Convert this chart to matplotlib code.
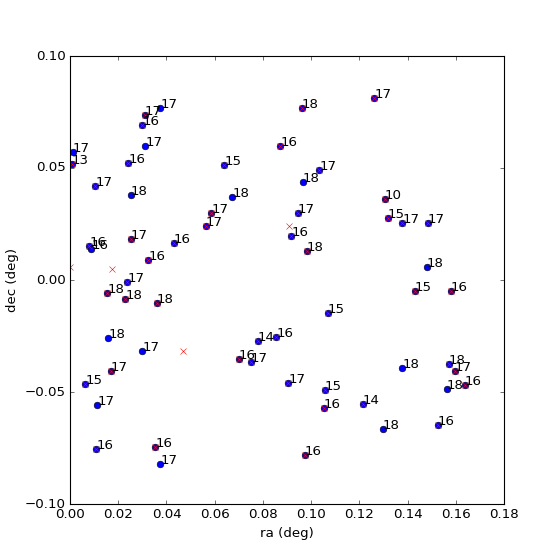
import numpy as np
import matplotlib
matplotlib.use("Agg")
from matplotlib import pyplot as plt

plt.style.use("classic")

ra = [0.0374, 0.0309, 0.0300, 0.0313, 0.0011, 0.0008, 0.0242, 0.0105, 0.0253,
      0.0961, 0.0872, 0.0640, 0.1034, 0.0965, 0.0673, 0.1262, 0.1305,
      0.0586, 0.0564, 0.0080, 0.0089, 0.0251, 0.0431, 0.0325, 0.0238,
      0.0155, 0.0230, 0.0361, 0.0159, 0.0300, 0.0944, 0.0918, 0.0982,
      0.1068, 0.0778, 0.0856, 0.1318, 0.1379, 0.1484, 0.1480, 0.1430,
      0.1579, 0.0170, 0.0064, 0.0113, 0.0109, 0.0353, 0.0374, 0.0699,
      0.0749, 0.0906, 0.1057, 0.1052, 0.0973, 0.1379, 0.1570, 0.1597,
      0.1563, 0.1638, 0.1214, 0.1297, 0.1526]
dec = [0.0769, 0.0735, 0.0690, 0.0596, 0.0572, 0.0520, 0.0523, 0.0418, 0.0378,
       0.0770, 0.0600, 0.0515, 0.0490, 0.0439, 0.0369, 0.0811, 0.0363,
       0.0301, 0.0243, 0.0153, 0.0140, 0.0184, 0.0166, 0.0090, -0.0010,
       -0.0057, -0.0083, -0.0102, -0.0257, -0.0317, 0.0301, 0.0195, 0.0131,
       -0.0147, -0.0272, -0.0253, 0.0275, 0.0256, 0.0256, 0.0059, -0.0051,
       -0.0051, -0.0406, -0.0464, -0.0558, -0.0755, -0.0746, -0.0822, -0.0353,
       -0.0366, -0.0460, -0.0491, -0.0570, -0.0782, -0.0393, -0.0375, -0.0406,
       -0.0487, -0.0469, -0.0554, -0.0664, -0.0648]
mag = [17, 17, 16, 17, 17, 13, 16, 17, 18,
       18, 16, 15, 17, 18, 18, 17, 10,
       17, 17, 16, 16, 17, 16, 16, 17,
       18, 18, 18, 18, 17, 17, 16, 18,
       15, 14, 16, 15, 17, 17, 18, 15,
       16, 17, 15, 17, 16, 16, 17, 16,
       17, 17, 15, 16, 16, 18, 18, 17,
       18, 16, 14, 18, 16]
# 1 = also matched in the second catalogue (red x)
matched = [0, 1, 1, 0, 0, 1, 1, 1, 0,
           1, 1, 1, 1, 0, 0, 1, 1,
           1, 1, 1, 0, 1, 1, 1, 1,
           1, 1, 1, 0, 0, 1, 1, 1,
           1, 1, 1, 1, 1, 1, 0, 1,
           1, 1, 1, 0, 1, 1, 0, 1,
           1, 1, 1, 1, 1, 0, 1, 1,
           0, 1, 1, 0, 1]
# red x with no blue source
extra_ra = [0.0, 0.0176, 0.0467, 0.0910]
extra_dec = [0.0057, 0.0050, -0.0319, 0.0243]

ra = np.array(ra)
dec = np.array(dec)
m = np.array(matched) == 1
red_ra = np.concatenate([ra[m], extra_ra])
red_dec = np.concatenate([dec[m], extra_dec])

fig = plt.figure(figsize=(7, 7), dpi=80)
ax = fig.add_subplot(111)
ax.plot(ra, dec, "bo")
ax.plot(red_ra, red_dec, "rx")
for x, y, s in zip(ra, dec, mag):
    ax.text(x, y, str(s))

ax.set_xlim(0.0, 0.18)
ax.set_ylim(-0.10, 0.10)
ax.set_xlabel("ra (deg)")
ax.set_ylabel("dec (deg)")

plt.savefig("out.png", dpi=80)
